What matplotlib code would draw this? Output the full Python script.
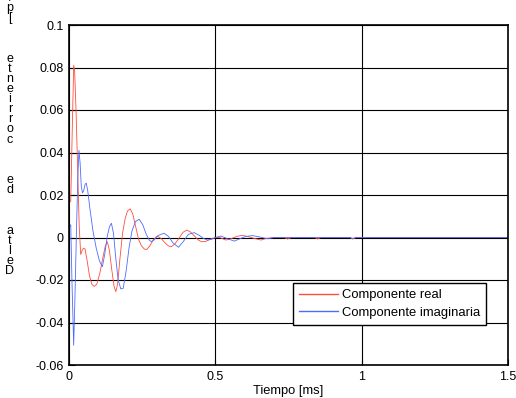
import matplotlib
matplotlib.use('Agg')
import matplotlib.pyplot as plt
import numpy as np

plt.rcParams['font.family'] = ['Liberation Sans', 'DejaVu Sans']

# componente real (rojo)
t_real = [0.002, 0.006, 0.011, 0.016, 0.019, 0.024, 0.030, 0.035, 0.040, 0.045,
          0.050, 0.055, 0.062, 0.070, 0.078, 0.086, 0.095, 0.105, 0.115, 0.124,
          0.131, 0.138, 0.146, 0.154, 0.160, 0.166, 0.174, 0.183, 0.192, 0.200,
          0.209, 0.218, 0.228, 0.238, 0.248, 0.258, 0.266, 0.276, 0.288, 0.302,
          0.315, 0.328, 0.340, 0.350, 0.362, 0.375, 0.390, 0.403, 0.416, 0.430,
          0.442, 0.453, 0.468, 0.482, 0.500, 0.515, 0.536, 0.555, 0.575, 0.593,
          0.612, 0.635, 0.656, 0.675, 0.700, 0.735, 0.747, 0.760, 0.840, 0.850,
          0.860, 0.960, 0.970, 0.980, 1.500]
i_real = [0.017, 0.017, 0.050, 0.081, 0.079, 0.060, 0.030, 0.005, -0.008, -0.006,
          -0.005, -0.0055, -0.011, -0.018, -0.022, -0.023, -0.022, -0.017, -0.010, -0.004,
          -0.002, -0.006, -0.015, -0.023, -0.0255, -0.022, -0.010, 0.002, 0.009, 0.0125,
          0.0135, 0.011, 0.005, -0.001, -0.004, -0.0055, -0.0056, -0.004, -0.001, 0.0007,
          -0.0005, -0.0025, -0.004, -0.0043, -0.003, -0.0005, 0.0025, 0.0035, 0.0025, 0.0005,
          -0.0012, -0.002, -0.0018, -0.0008, 0.0, 0.0, -0.0012, -0.0005, 0.0006, 0.001,
          0.0004, -0.0005, -0.0012, -0.0004, 0.0, 0.0, -0.0007, 0.0, 0.0, -0.0007,
          0.0, 0.0, -0.0007, 0.0, 0.0]

# componente imaginaria (azul)
t_imag = [0.002, 0.006, 0.010, 0.016, 0.020, 0.025, 0.030, 0.034, 0.038, 0.042,
          0.046, 0.050, 0.055, 0.059, 0.064, 0.072, 0.082, 0.093, 0.104, 0.114,
          0.122, 0.130, 0.138, 0.145, 0.152, 0.160, 0.168, 0.177, 0.185, 0.195,
          0.205, 0.215, 0.227, 0.240, 0.252, 0.264, 0.274, 0.282, 0.292, 0.305,
          0.325, 0.340, 0.355, 0.374, 0.390, 0.408, 0.428, 0.445, 0.460, 0.474,
          0.488, 0.500, 0.519, 0.540, 0.565, 0.585, 0.605, 0.627, 0.650, 0.679,
          0.700, 0.960, 0.970, 0.980, 1.500]
i_imag = [0.005, 0.006, -0.020, -0.0507, -0.030, 0.0, 0.028, 0.041, 0.035, 0.024,
          0.021, 0.022, 0.025, 0.0256, 0.022, 0.013, 0.003, -0.005, -0.011, -0.0138,
          -0.008, 0.0, 0.005, 0.0067, 0.002, -0.010, -0.020, -0.0242, -0.024, -0.016,
          -0.005, 0.003, 0.0075, 0.0086, 0.006, 0.0015, -0.0012, -0.002, -0.001, 0.001,
          0.002, 0.0005, -0.0025, -0.0046, -0.002, 0.0015, 0.0023, 0.001, -0.0005, -0.0012,
          -0.0008, 0.0, 0.0007, -0.0005, -0.0017, -0.0005, 0.0005, 0.0009, 0.0003, -0.0006,
          0.0, 0.0, -0.0005, 0.0, 0.0]

yticks = [-0.06, -0.04, -0.02, 0, 0.02, 0.04, 0.06, 0.08, 0.1]
ylabels = ['-0.06', '-0.04', '-0.02', '0', '0.02', '0.04', '0.06', '0.08', '0.1']
xticks = [0, 0.5, 1, 1.5]
xlabels = ['0', '0.5', '1', '1.5']

fig = plt.figure(figsize=(5.16, 3.98), dpi=100)
ax = fig.add_axes([69/516, 33/398, 439/516, 340/398])

ax.plot(t_real, i_real, color='#ff4d3a', lw=0.6, label='Componente real')
ax.plot(t_imag, i_imag, color='#4d6bff', lw=0.6, label='Componente imaginaria')

ax.set_xlim(0, 1.5)
ax.set_ylim(-0.06, 0.1)
ax.set_xticks(xticks)
ax.set_xticklabels(xlabels)
ax.set_yticks(yticks)
ax.set_yticklabels(ylabels)
ax.tick_params(direction='in', labelsize=9, length=4, pad=4)
ax.grid(True, color='k', lw=0.8)
ax.set_axisbelow(True)
for s in ax.spines.values():
    s.set_linewidth(1.2)
ax.set_xlabel('Tiempo [ms]', fontsize=9.3, labelpad=2)

leg = ax.legend(loc='upper left', bbox_to_anchor=(0.510, 0.241), borderaxespad=0,
                fontsize=9.4, fancybox=False, framealpha=1, edgecolor='k',
                handlelength=3, handletextpad=0.3, labelspacing=0.42, borderpad=0.45)
leg.get_frame().set_linewidth(1.0)
for h in leg.get_lines():
    h.set_linewidth(1.0)

# etiqueta vertical: una letra por renglon, leida de abajo hacia arriba
label = 'Delta de corriente [p.u.]'
lines = []
for ch in reversed(label):
    if ch == ' ':
        lines += ['', '', '']
    else:
        lines.append(ch)
fig.text(10/516, 1 - 277/398, '\n'.join(lines), ha='center', va='bottom',
         fontsize=9, linespacing=0.79, multialignment='center')

fig.savefig('out.png', dpi=100)
